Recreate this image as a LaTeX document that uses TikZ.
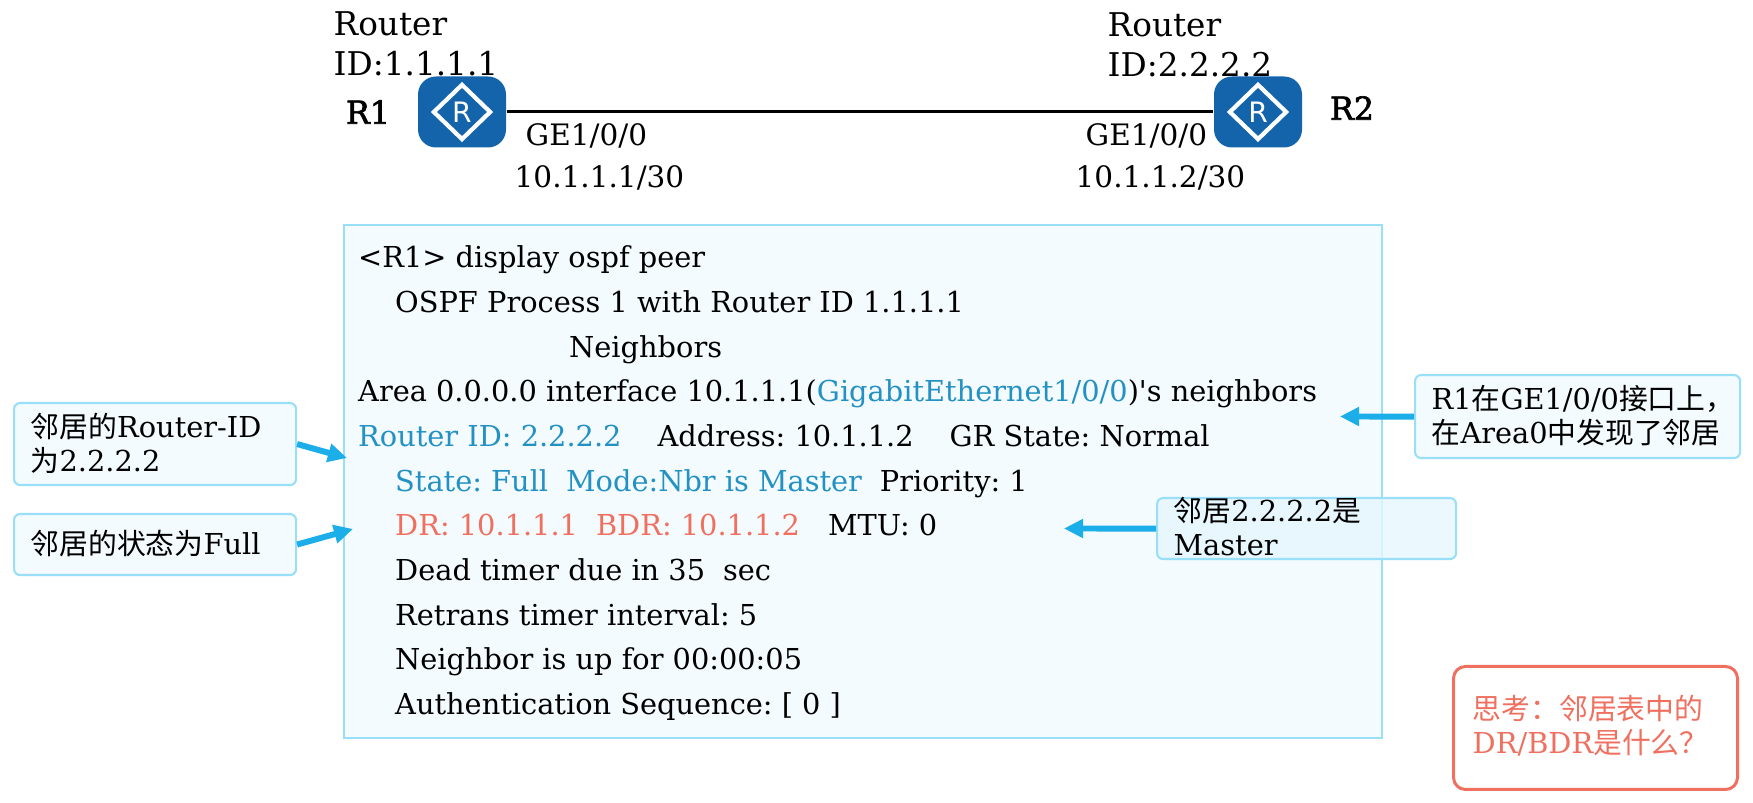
\documentclass[tikz,border=0pt]{standalone}
\usepackage{fontspec}
\setmainfont{DejaVu Serif}
\newfontfamily\cjk{Noto Sans CJK SC}
\newfontfamily\marksf{DejaVu Sans}
\newfontfamily\plainserif{DejaVu Serif}
\newfontfamily\namefont[FakeBold=2]{DejaVu Serif}
\usetikzlibrary{arrows.meta,shapes.geometric}
\definecolor{ink}{HTML}{000000}
\definecolor{routerblue}{HTML}{1464AC}
\definecolor{panelline}{HTML}{9ADFF8}
\definecolor{panelfill}{HTML}{F3FBFE}
\definecolor{cmdblue}{HTML}{2391C4}
\definecolor{cmdred}{HTML}{F07060}
\definecolor{pointer}{HTML}{1BAEE8}
\frenchspacing
\tikzset{
  every node/.style={font=\fontsize{8.2}{12.72}\selectfont,text=ink,inner sep=0pt},
  router/.style={rounded corners=1.8mm,fill=routerblue,minimum width=.88cm,minimum height=.71cm},
  routermark/.style={diamond,draw=white,line width=1.2pt,minimum width=.58cm,minimum height=.56cm,text=white,font=\marksf\fontsize{8}{9}\selectfont},
  routername/.style={font=\namefont\fontsize{9}{11}\selectfont},
  rid/.style={align=left,anchor=south west,font=\fontsize{9.3}{11.4}\selectfont},
  port/.style={anchor=base west,font=\fontsize{8.4}{10}\selectfont},
  panel/.style={draw=panelline,line width=.5pt,fill=panelfill,anchor=north west},
  callout/.style={rounded corners=.6mm,draw=panelline,line width=.6pt,fill=panelfill,anchor=north west},
  calltext/.style={align=left,anchor=west,font=\fontsize{8.2}{9.7}\selectfont},
  pointing/.style={-{Triangle[length=1.9mm,width=1.8mm]},line width=1.7pt,draw=pointer},
}
\begin{document}
\begin{tikzpicture}[x=1cm,y=1cm]
\path[use as bounding box] (0,0) rectangle (17.53,8.03);
\fill[white] (0,0) rectangle (17.53,8.03);
% Two routers joined by one link.
\node[router] (R1) at (4.62,6.91) {};
\node[routermark] (R1mark) at (R1) {R};
\node[router] (R2) at (12.58,6.91) {};
\node[routermark] (R2mark) at (R2) {R};
\draw[line width=.85pt,draw=black] (R1)--(R2);
\node[rid] (R1id) at (3.33,7.26) {Router\\ID:1.1.1.1};
\node[rid] (R2id) at (11.07,7.25) {Router\\ID:2.2.2.2};
\node[routername] (R1name) at (3.68,6.91) {R1};
\node[routername] (R2name) at (13.52,6.95) {R2};
\node[port] (R1port) at (5.25,6.57) {GE1/0/0};
\node[port] (R1addr) at (5.14,6.15) {10.1.1.1/30};
\node[port] (R2port) at (10.85,6.57) {GE1/0/0};
\node[port] (R2addr) at (10.75,6.15) {10.1.1.2/30};
% Command output as one block of text.
\node[panel,minimum width=10.38cm,minimum height=5.13cm] (peerbox) at (3.43,5.79) {};
\node[anchor=north west,align=left] (peertext) at (3.575,5.58) {%
<R1> display ospf peer\\
\hspace*{.37cm}OSPF Process 1 with Router ID 1.1.1.1\\
\hspace*{2.11cm}Neighbors\\
Area 0.0.0.0 interface 10.1.1.1({\color{cmdblue}GigabitEthernet1/0/0}){\plainserif'}s neighbors\\
{\color{cmdblue}Router ID: 2.2.2.2}\hspace{.36cm}Address: 10.1.1.2\hspace{.36cm}GR State: Normal\\
\hspace*{.37cm}{\color{cmdblue}State: Full\hspace{.18cm}Mode:Nbr is Master}\hspace{.18cm}Priority: 1\\
\hspace*{.37cm}{\color{cmdred}DR: 10.1.1.1\hspace{.18cm}BDR: 10.1.1.2}\hspace{.28cm}MTU: 0\\
\hspace*{.37cm}Dead timer due in 35\hspace{.18cm}sec\\
\hspace*{.37cm}Retrans timer interval: 5\\
\hspace*{.37cm}Neighbor is up for 00:00:05\\
\hspace*{.37cm}Authentication Sequence: [ 0 ]};
% Callouts round the output.
\node[callout,minimum width=2.82cm,minimum height=.82cm] (ridbox) at (.13,4.01) {};
\node[calltext] (ridtext) at (.3,3.6) {{\cjk 邻居的}Router-ID\\{\cjk 为}2.2.2.2};
\node[callout,minimum width=2.82cm,minimum height=.61cm] (statebox) at (.13,2.9) {};
\node[calltext] (statetext) at (.3,2.595) {{\cjk 邻居的状态为}Full};
\node[callout,minimum width=3.25cm,minimum height=.83cm] (areabox) at (14.14,4.29) {};
\node[calltext] (areatext) at (14.31,3.875) {R1{\cjk 在}GE1/0/0{\cjk 接口上，}\\{\cjk 在}Area0{\cjk 中发现了邻居}};
\node[callout,fill opacity=.8,text opacity=1,fill=panelline!25,minimum width=2.99cm,minimum height=.61cm] (masterbox) at (11.56,3.06) {};
\node[calltext] (mastertext) at (11.73,2.76) {{\cjk 邻居}2.2.2.2{\cjk 是}\\Master};
\coordinate (ridtip) at (3.47,3.45);
\coordinate (statetip) at (3.53,2.74);
\coordinate (areatip) at (13.4,3.865);
\coordinate (mastertip) at (10.64,2.745);
\draw[pointing] (ridbox.east)--(ridtip);
\draw[pointing] (statebox.east)--(statetip);
\draw[pointing] (areabox.west)--(areatip);
\draw[pointing] (masterbox.west)--(mastertip);
% Question left open at the corner.
\node[callout,draw=cmdred,line width=.85pt,fill=white,rounded corners=1.2mm,minimum width=2.84cm,minimum height=1.23cm] (askbox) at (14.52,1.38) {};
\node[calltext,text=cmdred] (asktext) at (14.72,.77) {{\cjk 思考：邻居表中的}\\DR/BDR{\cjk 是什么？}};
\end{tikzpicture}
\end{document}
